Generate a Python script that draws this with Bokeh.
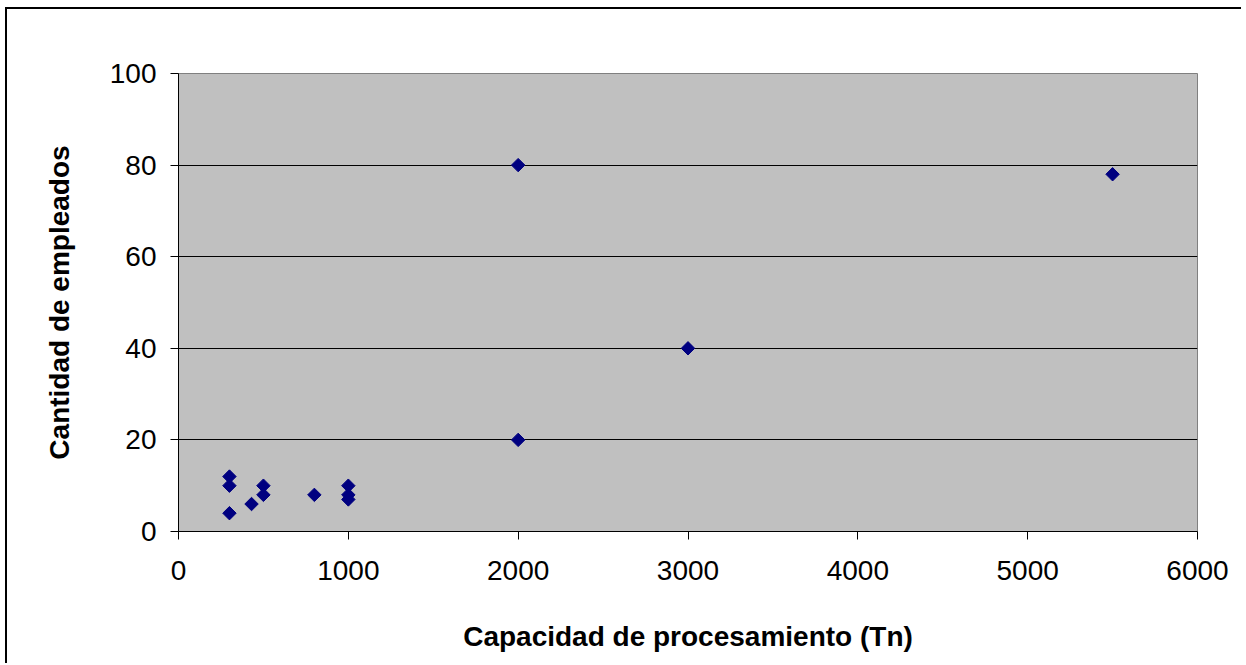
import math
from bokeh.plotting import figure
from bokeh.models import Range1d, FixedTicker
from bokeh.embed import file_html
from bokeh.resources import INLINE

# Data
capacidad = [300, 300, 300, 430, 500, 500, 800, 1000, 1000, 1000, 2000, 2000, 3000, 5500]
empleados = [12, 10, 4, 6, 10, 8, 8, 10, 8, 7, 80, 20, 40, 78]
x_ticks = [0, 1000, 2000, 3000, 4000, 5000, 6000]
y_ticks = [0, 20, 40, 60, 80, 100]

FONT = "Liberation Sans"

p = figure(
    output_backend="svg", toolbar_location=None,
    width=1234, height=654,
    frame_width=1019, frame_height=458,
    min_border_left=171, min_border_top=64, min_border_right=44, min_border_bottom=132,
    x_range=Range1d(0, 6000), y_range=Range1d(0, 100),
    background_fill_color="#c0c0c0", border_fill_color="white",
    outline_line_color="#808080", outline_line_width=1,
)
p.styles = {"border-left": "2px solid black", "border-top": "2px solid black",
            "margin-left": "5px", "margin-top": "7px"}

p.scatter(capacidad, empleados, marker="square", size=9.5, angle=math.pi / 4,
          fill_color="#000080", line_color="#000080")

p.xaxis.ticker = FixedTicker(ticks=x_ticks)
p.yaxis.ticker = FixedTicker(ticks=y_ticks)
p.xaxis.minor_tick_line_color = None
p.yaxis.minor_tick_line_color = None

for ax in (p.xaxis, p.yaxis):
    ax.axis_line_color = "black"
    ax.major_tick_line_color = "black"
    ax.major_tick_in = 0
    ax.major_tick_out = 8
    ax.major_label_text_font = FONT
    ax.major_label_text_font_size = "28px"
    ax.major_label_text_color = "black"
    ax.axis_label_text_font = FONT
    ax.axis_label_text_font_size = "28px"
    ax.axis_label_text_font_style = "bold"
    ax.axis_label_text_color = "black"

p.xaxis.axis_label = "Capacidad de procesamiento (Tn)"
p.yaxis.axis_label = "Cantidad de empleados"
p.xaxis.major_label_standoff = 21
p.yaxis.major_label_standoff = 14
p.xaxis.axis_label_standoff = 38
p.yaxis.axis_label_standoff = 32

p.xgrid.grid_line_color = None
p.ygrid.grid_line_color = "black"
p.ygrid.grid_line_width = 1

open("out.html", "w").write(file_html(p, INLINE))
